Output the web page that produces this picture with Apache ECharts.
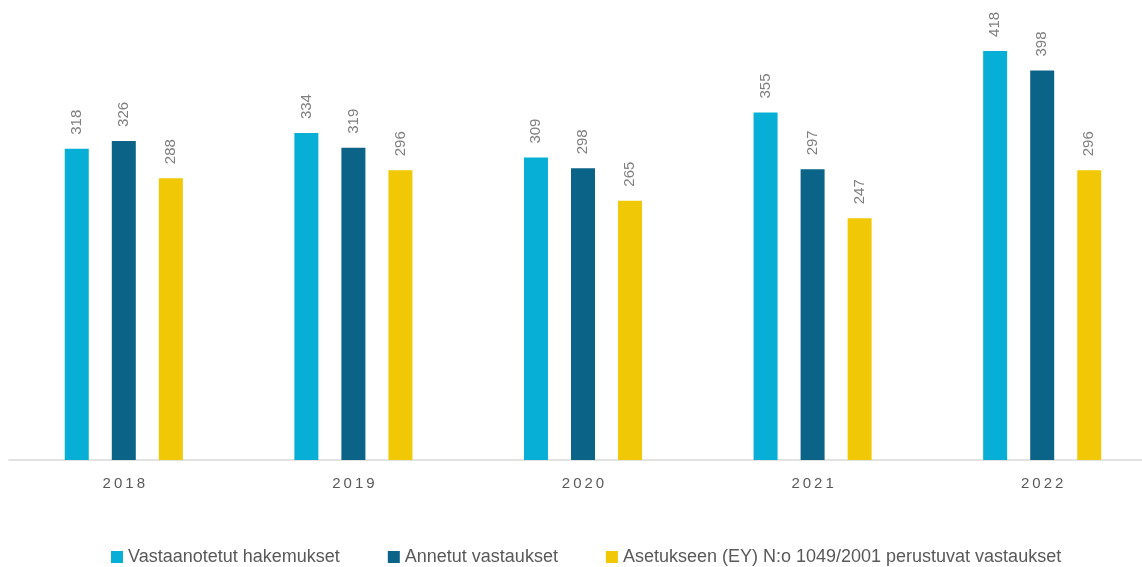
<!DOCTYPE html>
<html>
<head>
<meta charset="utf-8">
<script src="https://cdn.jsdelivr.net/npm/echarts@6/dist/echarts.min.js"></script>
<style>html,body{margin:0;padding:0;background:#fff;overflow:hidden;}#c{width:1160px;height:567px;}</style>
</head>
<body>
<div id="c"></div>
<script>
const years = ['2018', '2019', '2020', '2021', '2022'];
const received = [318, 334, 309, 355, 418];
const given = [326, 319, 298, 297, 398];
const regulation = [288, 296, 265, 247, 296];
const seriesNames = ['Vastaanotetut hakemukset', 'Annetut vastaukset', 'Asetukseen (EY) N:o 1049/2001 perustuvat vastaukset'];
const colors = ['#07AFD6', '#0B6487', '#F1C805'];

const chart = echarts.init(document.getElementById('c'));
const FONT = 'Liberation Sans';
const label = {
  show: true, position: 'top', rotate: 90, align: 'left', verticalAlign: 'middle',
  distance: 14, color: '#7F7F7F', fontSize: 15, fontFamily: FONT
};
function mk(name, data, color) {
  return { name, type: 'bar', data, barWidth: 24, barGap: '96%', itemStyle: { color }, label };
}
chart.setOption({
  animation: false,
  textStyle: { fontFamily: FONT },
  grid: { left: 9, top: 0, width: 1148, height: 460, containLabel: false },
  legend: {
    left: 106, top: 543, itemWidth: 12, itemHeight: 12, itemGap: 48,
    icon: 'rect', textStyle: { color: '#595959', fontSize: 18, fontFamily: FONT },
    data: seriesNames
  },
  xAxis: {
    type: 'category', data: years,
    axisLine: { lineStyle: { color: '#D9D9D9', width: 1.5 } },
    axisTick: { show: false },
    axisLabel: { color: '#595959', fontSize: 15, margin: 16,
      formatter: v => v.split('').join('\u2009') }
  },
  yAxis: { type: 'value', min: 0, max: 470, show: false, splitLine: { show: false } },
  series: [mk(seriesNames[0], received, colors[0]), mk(seriesNames[1], given, colors[1]), mk(seriesNames[2], regulation, colors[2])]
});
</script>
</body>
</html>
